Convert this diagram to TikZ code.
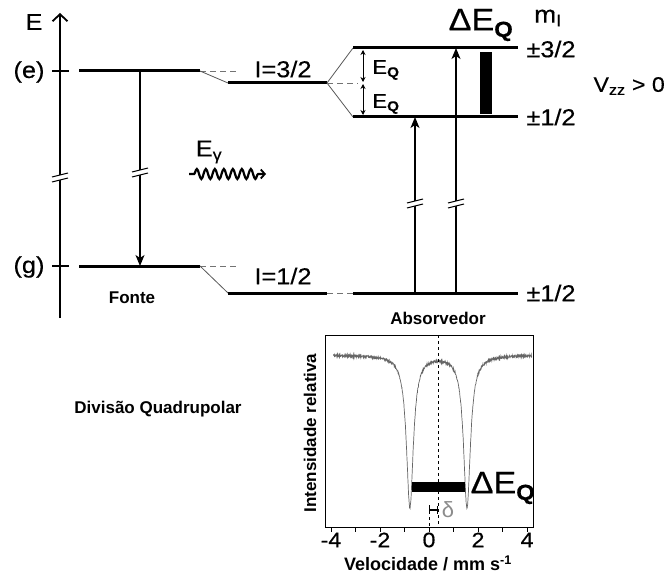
\documentclass[tikz,border=0pt]{standalone}
\usepackage{fontspec}
\setmainfont{Liberation Sans}
\newfontfamily\wdf[FakeStretch=1.1,FakeBold=0.4]{Liberation Sans}
\usetikzlibrary{arrows.meta,decorations.pathmorphing}
\tikzset{
  lvl/.style={line width=3pt},
  thn/.style={line width=0.8pt, black!65},
  dsh/.style={line width=0.8pt, black!55, dash pattern=on 6pt off 4pt},
  arr/.style={line width=1.6pt, -{Stealth[length=11pt,width=9pt,inset=3pt]}},
  lab/.style={font=\wdf\fontsize{23}{23}\selectfont, inner sep=0pt},
  big/.style={font=\wdf\fontsize{31}{31}\selectfont, inner sep=0pt},
  blab/.style={font=\bfseries\fontsize{17}{17}\selectfont, inner sep=0pt},
  tck/.style={font=\wdf\fontsize{21}{21}\selectfont, inner sep=0pt},
  pics/brk/.style={code={
    \fill[white] (-8,0) -- (8,-4) -- (8,1) -- (-8,5) -- cycle;
    \draw[line width=1pt] (-8,0) -- (8,-4);
    \draw[line width=1pt] (-8,5) -- (8,1);
  }}
}
\begin{document}
\begin{tikzpicture}[x=1pt,y=-1pt,
  declare function={Lz(\t)=1/(1+(\t*\t)/0.0289);}]
\useasboundingbox (0,0) rectangle (670,578);
% ---------- coordinates ----------
\coordinate (axb) at (60,318);
\coordinate (axt) at (60,13);
\coordinate (eL) at (79,71);  \coordinate (eR) at (200,71);
\coordinate (gL) at (79,266); \coordinate (gR) at (200,266);
\coordinate (i3L) at (228,83); \coordinate (i3R) at (327,83);
\coordinate (i1L) at (228,293); \coordinate (i1R) at (327,293);
\coordinate (tL) at (353,48); \coordinate (tR) at (518,48);
\coordinate (mL) at (353,117); \coordinate (mR) at (518,117);
\coordinate (bL) at (353,293); \coordinate (bR) at (518,293);
\coordinate (srcTop) at (140,71); \coordinate (srcBot) at (140,266);
\coordinate (a1b) at (415,293); \coordinate (a1t) at (415,117);
\coordinate (a2b) at (456,293); \coordinate (a2t) at (456,48);
% ---------- energy axis ----------
\draw[line width=1.8pt, -{Straight Barb[length=7pt,width=15pt,line width=1.8pt]}] (axb) -- (axt);
\draw[line width=1.8pt] (52,71) -- (69,71);
\draw[line width=1.8pt] (52,266) -- (69,266);
\pic at (60,177) {brk};
\node[lab] (E) at (34,22) {E};
\node[lab] (le) at (29,72) {(e)};
\node[lab] (lg) at (29,267) {(g)};
% ---------- source ----------
\draw[lvl] (eL) -- (eR);
\draw[lvl] (gL) -- (gR);
\draw[arr] (srcTop) -- (srcBot);
\pic at (140,172) {brk};
\node[blab] (fonte) at (132,298) {Fonte};
% ---------- connectors ----------
\draw[dsh] (eR) -- (238,71);
\draw[dsh] (gR) -- (238,266);
\draw[thn] (eR) -- (i3L);
\draw[thn] (gR) -- (i1L);
\draw[lvl] (i3L) -- (i3R);
\draw[lvl] (i1L) -- (i1R);
\node[lab] (i3) at (283,69) {I=3/2};
\node[lab] (i1) at (283,276) {I=1/2};
\draw[thn] (i3R) -- (tL);
\draw[thn] (i3R) -- (mL);
\draw[dsh] (i3R) -- (358,83);
\draw[dsh] (i1R) -- (bL);
% ---------- gamma ----------
\node[lab] (eg) at (209,152) {E\textsubscript{γ}};
\draw[line width=2.2pt, decorate, decoration={snake, segment length=9pt, amplitude=5pt, pre length=5pt, post length=6pt}, -{Straight Barb[length=4pt,width=9pt,line width=1.8pt]}] (189,174) -- (266,174);
% ---------- absorber ----------
\draw[lvl] (tL) -- (tR);
\draw[lvl] (mL) -- (mR);
\draw[lvl] (bL) -- (bR);
\draw[line width=0.9pt, {Stealth[length=5pt,width=5pt]}-{Stealth[length=5pt,width=5pt]}] (363,50) -- (363,82);
\draw[line width=0.9pt, {Stealth[length=5pt,width=5pt]}-{Stealth[length=5pt,width=5pt]}] (363,84) -- (363,115);
\node[lab, font=\wdf\fontsize{20}{20}\selectfont] (eq1) at (386,70) {E\textsubscript{\bfseries Q}};
\node[lab, font=\wdf\fontsize{20}{20}\selectfont] (eq2) at (386,104) {E\textsubscript{\bfseries Q}};
\draw[arr] (a1b) -- (a1t);
\draw[arr] (a2b) -- (a2t);
\pic at (415,203) {brk};
\pic at (456,203) {brk};
\fill (480,52) rectangle (492,114);
\node[big] (deq) at (481,25) {ΔE\textsubscript{\bfseries Q}};
\node[lab, font=\wdf\fontsize{24}{24}\selectfont] (mi) at (548,18) {m\textsubscript{I}};
\node[lab] (p3) at (551,49) {±3/2};
\node[lab] (p1a) at (551,117) {±1/2};
\node[lab] (p1b) at (551,293) {±1/2};
\node[lab, font=\wdf\fontsize{21}{21}\selectfont, anchor=east] (vzz) at (665,86) {V\textsubscript{zz} > 0};
\node[blab] (abs) at (438,318) {Absorvedor};
\node[blab] (div) at (158,409) {Divisão Quadrupolar};
% ---------- spectrum ----------
\draw[line width=0.8pt] (325,335) rectangle (533,527);
\draw[black!60, line width=0.7pt] plot[domain=-3.9:4.2, samples=811]
  ({429+24.5*\x},{355+152*(Lz(\x+0.78)+Lz(\x-1.55))+1.2*rand});
\foreach \v in {-4,...,4} \draw[line width=0.8pt] ({429+24.5*\v},527) -- ++(0,5);
\foreach \v in {-4,-2,0,2,4} \node[tck] at ({429+24.5*\v},540) {\v};
\draw[line width=0.8pt, dashed] (438,335) -- (438,527);
\draw[line width=0.8pt, dashed] (429,505) -- (429,527);
\fill (412,482) rectangle (465,492);
\draw[line width=1.6pt] (429,510) -- (437,510);
\draw[line width=1pt] (429,506) -- (429,514);
\draw[line width=1pt] (437,506) -- (437,514);
\node[font=\fontsize{22}{22}\selectfont, text=black!45, inner sep=0pt] (dl) at (448,510) {δ};
\node[big] (deq2) at (503,488) {ΔE\textsubscript{\bfseries Q}};
\node[font=\bfseries\fontsize{18}{18}\selectfont, inner sep=0pt] (vel) at (428,563) {Velocidade / mm s\textsuperscript{-1}};
\node[font=\bfseries\fontsize{17}{17}\selectfont, inner sep=0pt, rotate=90] (int) at (310,433) {Intensidade relativa};
\end{tikzpicture}
\end{document}
